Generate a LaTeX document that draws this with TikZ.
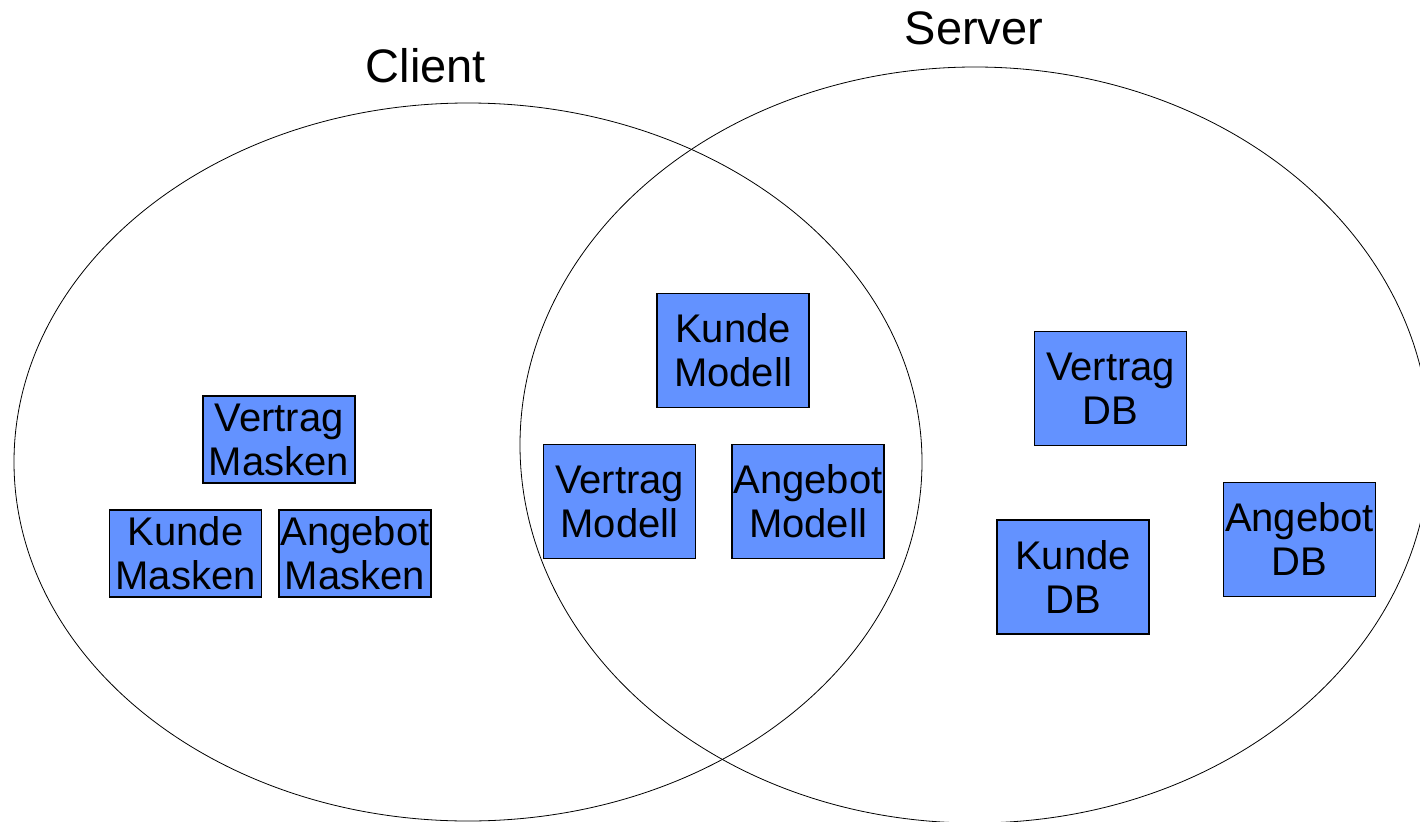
\documentclass[tikz,border=0pt]{standalone}
\usepackage{fontspec}
\setmainfont{Liberation Sans}
\definecolor{boxblue}{RGB}{99,146,255}
\begin{document}
\begin{tikzpicture}[x=1pt,y=-1pt,
  comp/.style={draw=black, line width=1.6pt, fill=boxblue, inner sep=0pt,
    minimum width=152pt, align=center,
    font=\fontsize{40}{44}\selectfont},
  low/.style={comp, minimum height=87pt},
  tall/.style={comp, minimum height=114pt},
  title/.style={anchor=base, font=\fontsize{47}{54}\selectfont},
  region/.style={draw=black, line width=0.8pt}]
\useasboundingbox (0,0) rectangle (1420,821);

% the two overlapping areas
\draw[region] (468,462) ellipse [x radius=454, y radius=359];
\draw[region] (975,445) ellipse [x radius=455, y radius=378];

\node[title] (client) at (426,83) {Client};
\node[title] (server) at (974,45) {Server};

% client side: masks
\node[low] (vmask) at (279,439.5) {Vertrag\\Masken};
\node[low] (kmask) at (185.5,553.5) {Kunde\\Masken};
\node[low] (amask) at (355,553.5) {Angebot\\Masken};

% shared: models
\node[tall] (kmod) at (733,350.5) {Kunde\\Modell};
\node[tall] (vmod) at (619.5,501.5) {Vertrag\\Modell};
\node[tall] (amod) at (808,501.5) {Angebot\\Modell};

% server side: databases
\node[tall] (vdb) at (1110.5,388.5) {Vertrag\\DB};
\node[tall] (kdb) at (1073,577) {Kunde\\DB};
\node[tall] (adb) at (1299.5,539.5) {Angebot\\DB};
\end{tikzpicture}
\end{document}
